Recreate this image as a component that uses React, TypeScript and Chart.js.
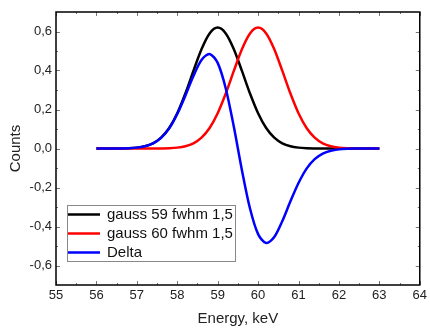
import React, { useEffect, useRef } from 'react';
import { Chart, registerables } from 'chart.js';

Chart.register(...registerables);

const energy = [
  56.0, 56.2, 56.4, 56.6, 56.8, 57.0, 57.2, 57.4, 57.6, 57.8,
  58.0, 58.2, 58.4, 58.6, 58.8, 59.0, 59.2, 59.4, 59.6, 59.8,
  60.0, 60.2, 60.4, 60.6, 60.8, 61.0, 61.2, 61.4, 61.6, 61.8,
  62.0, 62.2, 62.4, 62.6, 62.8, 63.0,
];

const gauss59 = [
  0, 0, 0, 0.0005, 0.0016, 0.0045, 0.0114, 0.0265, 0.0554, 0.105,
  0.181, 0.282, 0.398, 0.509, 0.590, 0.620, 0.590, 0.509, 0.398, 0.282,
  0.181, 0.105, 0.0554, 0.0265, 0.0114, 0.0045, 0.0016, 0.0005, 0, 0,
  0, 0, 0, 0, 0, 0,
];

const gauss60 = [
  0, 0, 0, 0, 0, 0, 0, 0, 0.0005, 0.0016,
  0.0045, 0.0114, 0.0265, 0.0554, 0.105, 0.181, 0.282, 0.398, 0.509, 0.590,
  0.620, 0.590, 0.509, 0.398, 0.282, 0.181, 0.105, 0.0554, 0.0265, 0.0114,
  0.0045, 0.0016, 0.0005, 0, 0, 0,
];

const delta = [
  0, 0, 0, 0.0005, 0.0016, 0.0045, 0.0114, 0.0265, 0.0549, 0.103,
  0.177, 0.271, 0.372, 0.454, 0.485, 0.439, 0.308, 0.111, -0.111, -0.308,
  -0.439, -0.485, -0.454, -0.372, -0.271, -0.177, -0.103, -0.0549, -0.0265, -0.0114,
  -0.0045, -0.0016, -0.0005, 0, 0, 0,
];

const seriesLabels = ['gauss 59 fwhm 1,5', 'gauss 60 fwhm 1,5', 'Delta'];
const seriesColors = ['#000000', '#ff0000', '#0000ff'];

const xTicks = [55, 56, 57, 58, 59, 60, 61, 62, 63, 64];
const yTicks = [-0.6, -0.4, -0.2, 0.0, 0.2, 0.4, 0.6];

const FONT = "Arial, 'Liberation Sans', sans-serif";

const framePlugin = {
  id: 'frame',
  afterDatasetsDraw(chart: any) {
    const { ctx, chartArea: ca, scales } = chart;
    const xs = scales.x;
    const ys = scales.y;
    ctx.save();
    // tick marks (inside)
    ctx.strokeStyle = '#777';
    ctx.lineWidth = 1;
    ctx.beginPath();
    for (let v = 55; v <= 64.001; v += 0.5) {
      const px = Math.round(xs.getPixelForValue(v)) + 0.5;
      const major = Math.abs(v - Math.round(v)) < 1e-6;
      const len = major ? 4 : 2;
      ctx.moveTo(px, ca.bottom);
      ctx.lineTo(px, ca.bottom - len);
      ctx.moveTo(px, ca.top);
      ctx.lineTo(px, ca.top + len);
    }
    for (let v = -0.6; v <= 0.6001; v += 0.1) {
      const py = Math.round(ys.getPixelForValue(v)) + 0.5;
      const major = Math.abs(v * 5 - Math.round(v * 5)) < 1e-6;
      const len = major ? 4 : 2;
      ctx.moveTo(ca.left, py);
      ctx.lineTo(ca.left + len, py);
      ctx.moveTo(ca.right, py);
      ctx.lineTo(ca.right - len, py);
    }
    ctx.stroke();
    // frame
    ctx.strokeStyle = '#000';
    ctx.lineWidth = 1.5;
    ctx.strokeRect(ca.left, ca.top, ca.right - ca.left, ca.bottom - ca.top);

    // legend box
    const bx = ca.left + 11;
    const by = ca.top + 193;
    const bw = 168;
    const bh = 56;
    ctx.fillStyle = '#fff';
    ctx.fillRect(bx, by, bw, bh);
    ctx.strokeStyle = '#888';
    ctx.lineWidth = 1;
    ctx.strokeRect(bx + 0.5, by + 0.5, bw, bh);
    ctx.font = `15px ${FONT}`;
    ctx.textBaseline = 'middle';
    ctx.textAlign = 'left';
    chart.data.datasets.forEach((ds: any, i: number) => {
      const cy = by + 9.5 + i * 19;
      ctx.strokeStyle = ds.borderColor;
      ctx.lineWidth = 2.5;
      ctx.beginPath();
      ctx.moveTo(bx + 1, cy);
      ctx.lineTo(bx + 33, cy);
      ctx.stroke();
      ctx.fillStyle = '#111';
      ctx.fillText(ds.label, bx + 40, cy + 0.5);
    });
    ctx.restore();
  },
};

export default function App() {
  const ref = useRef<HTMLCanvasElement | null>(null);

  useEffect(() => {
    document.body.style.margin = '0';
    const canvas = ref.current;
    if (!canvas) return;
    const series = [gauss59, gauss60, delta];
    const chart = new Chart(canvas, {
      type: 'line',
      data: {
        datasets: series.map((arr, i) => ({
          label: seriesLabels[i],
          data: energy.map((x, j) => ({ x, y: arr[j] })),
          borderColor: seriesColors[i],
          backgroundColor: seriesColors[i],
          borderWidth: 2.5,
          pointRadius: 0,
          tension: 0.3,
          fill: false,
          order: 3 - i,
        })),
      },
      options: {
        animation: false,
        responsive: false,
        maintainAspectRatio: false,
        devicePixelRatio: 1,
        layout: { padding: { top: 12, right: 7, left: 0, bottom: 0 } },
        plugins: {
          legend: { display: false },
          tooltip: { enabled: false },
        },
        scales: {
          x: {
            type: 'linear',
            min: 55,
            max: 64,
            grid: { display: false, drawTicks: false },
            border: { display: false },
            afterBuildTicks: (s: any) => {
              s.ticks = xTicks.map((v) => ({ value: v }));
            },
            afterFit: (s: any) => {
              s.height = 43;
            },
            ticks: {
              autoSkip: false,
              maxRotation: 0,
              padding: 3,
              color: '#222',
              font: { size: 13, family: FONT },
              callback: (v: any) => String(v),
            },
            title: {
              display: true,
              text: 'Energy, keV',
              color: '#222',
              font: { size: 15, family: FONT },
              padding: { top: 1, bottom: 0 },
            },
          },
          y: {
            type: 'linear',
            min: -0.7,
            max: 0.7,
            grid: { display: false, drawTicks: false },
            border: { display: false },
            afterBuildTicks: (s: any) => {
              s.ticks = yTicks.map((v) => ({ value: v }));
            },
            afterFit: (s: any) => {
              s.width = 56;
            },
            ticks: {
              autoSkip: false,
              padding: 4,
              color: '#222',
              font: { size: 13, family: FONT },
              callback: (v: any) => Number(v).toFixed(1).replace('.', ','),
            },
            title: {
              display: true,
              text: 'Counts',
              color: '#222',
              font: { size: 15, family: FONT },
              padding: { top: 7, bottom: 0 },
            },
          },
        },
      },
      plugins: [framePlugin],
    } as any);
    return () => chart.destroy();
  }, []);

  return (
    <div style={{ width: 430, height: 328 }}>
      <canvas ref={ref} width={430} height={328} style={{ width: 430, height: 328, display: 'block' }} />
    </div>
  );
}
